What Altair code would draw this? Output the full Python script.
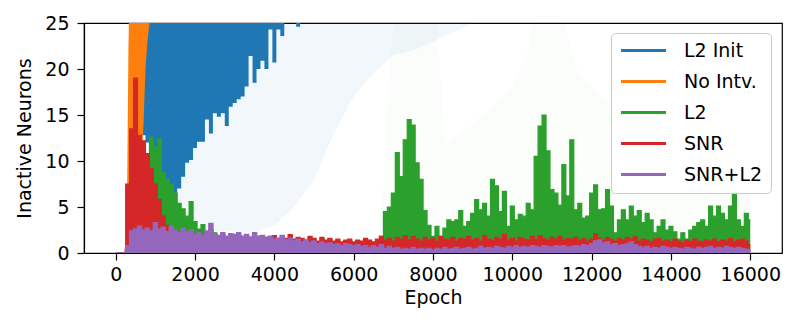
import altair as alt
import pandas as pd

NAMES = ["L2 Init", "No Intv.", "L2", "SNR", "SNR+L2"]
COLORS = ["#1f77b4", "#ff7f0e", "#2ca02c", "#d62728", "#9467bd"]

EPOCHS = list(range(0, 16001, 100))

SNR_L2 = [0, 0, 0, 0.8, 2.4, 2.6, 2.9, 2.5, 2.7, 2.4,
          3.3, 2.6, 2.8, 2.3, 2.9, 2.5, 2.2, 2.7, 2.3, 2.5,
          2.0, 2.2, 1.9, 2.4, 3.2, 2.1, 1.9, 2.2, 1.8, 2.1,
          2.0, 2.2, 1.8, 2.0, 1.7, 2.2, 1.8, 1.9, 1.6, 1.8,
          1.5, 1.6, 1.9, 1.4, 1.6, 1.3, 1.5, 1.2, 1.4, 1.1,
          1.3, 1.0, 1.2, 1.0, 1.1, 0.9, 1.0, 0.8, 1.0, 0.9,
          0.8, 0.9, 0.7, 0.8, 0.6, 0.8, 0.6, 0.9, 0.5, 0.7,
          0.5, 0.6, 0.4, 0.5, 0.4, 0.6, 0.4, 0.5, 0.4, 0.5,
          0.3, 0.5, 0.4, 0.6, 0.4, 0.5, 0.6, 0.4, 0.5, 0.6,
          0.4, 0.5, 0.7, 0.5, 0.6, 0.5, 0.7, 0.6, 0.5, 0.7,
          0.6, 0.8, 0.6, 0.7, 0.6, 0.8, 0.7, 0.6, 0.8, 0.7,
          0.6, 0.8, 0.7, 0.8, 0.6, 0.7, 0.8, 0.7, 0.9, 0.8,
          1.0, 1.3, 1.4, 1.1, 1.2, 0.9, 1.0, 0.8, 0.9, 1.0,
          1.2, 0.9, 0.7, 0.6, 0.7, 0.5, 0.6, 0.5, 0.7, 0.6,
          0.5, 0.6, 0.5, 0.4, 0.6, 0.5, 0.4, 0.6, 0.5, 0.6,
          0.7, 0.5, 0.6, 0.5, 0.7, 0.6, 0.5, 0.6, 0.5, 0.4,
          0.3]

SNR = [0, 0, 0, 7.5, 13.5, 19.0, 12.8, 12.2, 10.8, 9.2,
       7.5, 5.8, 4.0, 3.0, 2.7, 2.5, 2.2, 2.4, 2.2, 2.3,
       2.0, 2.1, 1.9, 2.2, 2.5, 2.0, 1.9, 2.0, 1.8, 1.9,
       1.9, 2.0, 1.8, 1.9, 1.7, 2.0, 1.8, 1.9, 1.7, 1.8,
       1.9, 1.5, 1.8, 1.6, 2.0, 1.5, 1.7, 1.6, 1.4, 1.8,
       1.6, 1.3, 1.7, 1.4, 1.6, 1.3, 1.5, 1.2, 1.4, 1.5,
       1.2, 1.4, 1.3, 1.6, 1.4, 1.2, 1.5, 1.8, 1.4, 1.6,
       1.3, 1.7, 1.5, 1.9, 1.4, 1.8, 1.5, 1.3, 1.7, 1.4,
       1.6, 1.3, 1.8, 1.5, 1.4, 1.7, 1.3, 1.6, 1.5, 1.8,
       1.4, 1.6, 1.3, 1.9, 1.5, 1.4, 1.7, 1.5, 2.0, 1.4,
       1.6, 1.3, 1.7, 1.5, 1.4, 1.8, 1.5, 1.9, 1.6, 1.4,
       1.7, 1.5, 1.8, 1.4, 1.6, 1.5, 1.7, 1.4, 1.6, 1.3,
       1.5, 2.1, 1.6, 1.4, 1.7, 1.5, 1.3, 1.6, 1.4, 1.7,
       1.5, 1.8, 1.3, 1.5, 1.4, 1.2, 1.5, 1.6, 1.3, 1.4,
       1.2, 1.5, 1.3, 1.1, 1.4, 1.2, 1.5, 1.3, 1.2, 1.4,
       1.3, 1.5, 1.2, 1.4, 1.3, 1.6, 1.2, 1.4, 1.5, 1.3,
       0.9]

L2 = [0, 0, 0, 0.5, 2.0, 3.0, 4.0, 5.0, 8.0, 12.6,
      11.5, 12.4, 8.8, 8.0, 7.5, 6.5, 5.4, 4.8, 4.0, 5.6,
      3.4, 2.6, 3.1, 2.3, 2.6, 2.2, 1.8, 1.9, 1.7, 1.8,
      1.8, 1.9, 1.7, 1.8, 1.6, 1.9, 1.7, 1.8, 1.6, 1.7,
      1.8, 1.4, 1.7, 1.5, 1.9, 1.4, 1.6, 1.5, 1.3, 1.7,
      1.5, 1.2, 1.6, 1.3, 1.5, 1.2, 1.4, 1.1, 1.3, 1.4,
      1.1, 1.3, 1.2, 1.5, 1.3, 1.1, 1.4, 1.8, 4.5, 5.0,
      6.5, 10.9, 8.3, 12.3, 14.5, 13.9, 9.8, 8.0, 4.6, 3.0,
      1.8, 2.9, 1.8, 2.7, 3.6, 3.4, 3.6, 4.6, 2.9, 3.4,
      4.3, 5.8, 4.7, 5.4, 4.0, 8.0, 7.3, 4.5, 6.7, 2.9,
      5.1, 3.6, 4.2, 4.0, 5.4, 4.7, 10.5, 13.8, 15.0, 11.1,
      6.9, 6.5, 5.2, 9.6, 6.2, 12.3, 4.7, 5.4, 3.8, 4.0,
      6.5, 7.4, 4.7, 4.8, 6.9, 5.1, 2.2, 3.6, 4.7, 3.6,
      5.1, 4.0, 4.6, 3.3, 4.3, 3.6, 2.2, 2.9, 3.6, 2.5,
      2.9, 2.3, 1.5, 2.2, 1.5, 2.5, 2.9, 3.3, 3.6, 2.9,
      5.1, 4.0, 5.1, 4.3, 3.6, 5.1, 6.5, 3.6, 2.9, 4.3,
      3.6]

# L2 Init: lower edge of the band (values above the 25 limit are cut off)
L2_INIT_EPOCHS = list(range(600, 4701, 100))
L2_INIT_LOW = [13.0, 12.8, 12.0, 11.0, 10.0, 9.0, 8.0, 7.2, 6.8, 6.2,
               7.0, 8.3, 9.8, 10.1, 11.4, 12.1, 12.1, 14.5, 13.0, 15.2,
               14.8, 15.2, 13.8, 15.9, 16.3, 16.7, 17.0, 18.1, 21.4, 18.5,
               20.0, 20.9, 20.0, 24.3, 20.7, 24.3, 23.6, 25.0, 26.0, 26.0,
               24.6, 27.0]
L2_INIT_HIGH = [30.0] * len(L2_INIT_LOW)

# faint downward spikes of L2 Init
L2_INIT_FAINT_EPOCHS = [1600, 2000, 2500, 3000, 3500, 4000, 4500, 5000, 5500,
                        6000, 6500, 7000, 7500, 8000, 8500, 9000]
L2_INIT_FAINT_LOW = [3.0, 2.6, 2.4, 2.3, 2.3, 3.0, 5.0, 8.0, 13.0,
                     17.0, 19.5, 21.5, 22.0, 23.0, 24.0, 25.0]

NO_INTV_EPOCHS = [0, 200, 260, 290, 320, 350, 600, 650, 700, 750, 800, 850]
NO_INTV_LOW = [0, 0, 0, 0, 0, 0, 0, 10.0, 14.0, 20.0, 23.0, 25.0]
NO_INTV_HIGH = [0, 0, 1.0, 8.0, 22.0, 30.0, 30.0, 30.0, 30.0, 30.0, 30.0, 30.0]

# faint upward spikes of L2
L2_FAINT_EPOCHS = [6700, 6900, 7000, 8100, 8300, 9000, 10000, 10400, 10500,
                   11300, 11600, 12500, 13500, 14500, 15500, 16000]
L2_FAINT_HIGH = [3.0, 20.0, 25.0, 25.0, 12.0, 14.0, 18.0, 22.0, 25.0,
                 25.0, 20.0, 16.0, 15.0, 14.0, 18.0, 10.0]

X_TICKS = [0, 2000, 4000, 6000, 8000, 10000, 12000, 14000, 16000]
Y_TICKS = [0, 5, 10, 15, 20, 25]

FONT = "DejaVu Sans"

x_enc = alt.X("epoch:Q",
              scale=alt.Scale(domain=[-800, 16800], nice=False, zero=False),
              axis=alt.Axis(values=X_TICKS, format="d", title="Epoch",
                            labelPadding=5, titlePadding=4))
y_enc = alt.Y("v:Q",
              scale=alt.Scale(domain=[0, 25], nice=False),
              axis=alt.Axis(values=Y_TICKS, title="Inactive Neurons",
                            labelPadding=8, titlePadding=10))

color_enc = alt.Color(
    "series:N",
    scale=alt.Scale(domain=NAMES, range=COLORS),
    legend=alt.Legend(
        title=None, orient="none", legendX=527, legendY=10,
        symbolType="M-1,-0.2H5V0.2H-1Z", symbolSize=225,
        symbolStrokeWidth=0, symbolOpacity=1,
        labelFont=FONT, labelFontSize=19, labelColor="black",
        labelOffset=46, rowPadding=11, padding=8,
        strokeColor="#cccccc", fillColor="rgba(255,255,255,0.8)",
        cornerRadius=4,
    ),
)


def series_df(epochs, vals, name, v2=None):
    d = {"epoch": epochs, "v": vals, "series": [name] * len(epochs)}
    if v2 is not None:
        d["v2"] = v2
    return pd.DataFrame(d)


faint_blue = alt.Chart(pd.DataFrame({
    "epoch": L2_INIT_FAINT_EPOCHS, "v": L2_INIT_FAINT_LOW,
    "v2": [30.0] * len(L2_INIT_FAINT_EPOCHS)})).mark_area(
    clip=True, color="#1f77b4", opacity=0.06).encode(
    x=x_enc, y=y_enc, y2="v2:Q")

blue = alt.Chart(series_df(L2_INIT_EPOCHS, L2_INIT_LOW, "L2 Init", L2_INIT_HIGH)).mark_area(
    clip=True, interpolate="step", opacity=1).encode(
    x=x_enc, y=y_enc, y2="v2:Q", color=color_enc)

orange = alt.Chart(series_df(NO_INTV_EPOCHS, NO_INTV_LOW, "No Intv.", NO_INTV_HIGH)).mark_area(
    clip=True, opacity=1).encode(x=x_enc, y=y_enc, y2="v2:Q", color=color_enc)

faint_green = alt.Chart(pd.DataFrame({
    "epoch": L2_FAINT_EPOCHS, "v": L2_FAINT_HIGH})).mark_area(
    clip=True, color="#2ca02c", opacity=0.018).encode(x=x_enc, y=y_enc)

green = alt.Chart(series_df(EPOCHS, L2, "L2")).mark_area(
    clip=True, interpolate="step", opacity=1, line={"strokeWidth": 1.2}).encode(
    x=x_enc, y=y_enc, color=color_enc)

red = alt.Chart(series_df(EPOCHS, SNR, "SNR")).mark_area(
    clip=True, interpolate="step", opacity=1, line={"strokeWidth": 1.2}).encode(
    x=x_enc, y=y_enc, color=color_enc)

purple = alt.Chart(series_df(EPOCHS, SNR_L2, "SNR+L2")).mark_area(
    clip=True, interpolate="step", opacity=1, line={"strokeWidth": 1.5}).encode(
    x=x_enc, y=y_enc, color=color_enc)

chart = alt.layer(faint_blue, blue, orange, faint_green, green, red, purple).properties(
    width=698, height=230,
    padding={"left": 76, "top": 15, "right": 6, "bottom": 60},
    autosize=alt.AutoSizeParams(type="none"),
).configure_view(
    stroke="black", strokeWidth=1.2
).configure_axis(
    labelFont=FONT, titleFont=FONT, labelFontSize=19, titleFontSize=19,
    labelColor="black", titleColor="black", titleFontWeight="normal",
    tickColor="black", domainColor="black", tickSize=7, tickWidth=1.2,
    domainWidth=1.2, grid=False,
)

chart.save("out.html", embed_options={"renderer": "svg", "actions": False})
